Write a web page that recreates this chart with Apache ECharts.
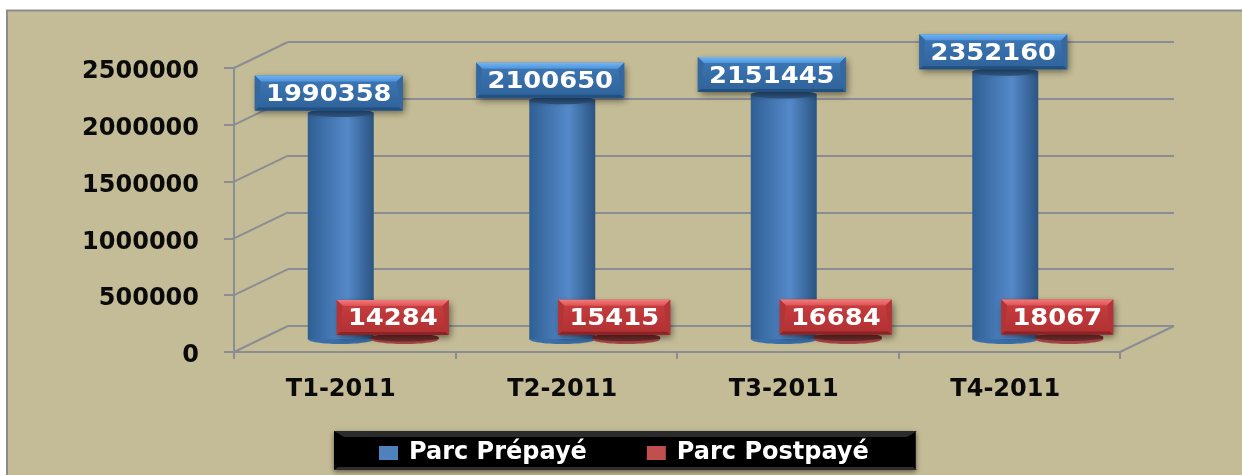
<!DOCTYPE html>
<html><head><meta charset="utf-8">
<style>html,body{margin:0;padding:0;background:#fff}#c{width:1242px;height:475px}</style>
<script src="https://cdn.jsdelivr.net/npm/echarts@6/dist/echarts.min.js"></script>
</head><body><div id="c"></div>
<script>
const categories = ['T1-2011','T2-2011','T3-2011','T4-2011'];
const prepaye = [1990358,2100650,2151445,2352160];
const postpaye = [14284,15415,16684,18067];
const yTicks = [0,500000,1000000,1500000,2000000,2500000];
const FONT = '"DejaVu Sans"';
const GRID = '#8b8d92';
const DX = 54, DY = 26;
const chart = echarts.init(document.getElementById('c'), null, {renderer:'canvas'});

function hGrad(a,c,d){return new echarts.graphic.LinearGradient(0,0,1,0,[
  {offset:0,color:a},{offset:.6,color:c},{offset:1,color:d}]);}
function vGrad(a,b){return new echarts.graphic.LinearGradient(0,0,0,1,[{offset:0,color:a},{offset:1,color:b}]);}
function bevelLabel(cx,cy,w,h,p,text){
  const x=cx-w/2,y=cy-h/2,b=6,r=x+w,e=y+h;
  return [
    {type:'rect',shape:{x,y,width:w,height:h},style:{fill:vGrad(p.main,p.main2),shadowBlur:7,shadowColor:'rgba(0,0,0,.5)',shadowOffsetX:2,shadowOffsetY:3}},
    {type:'polygon',shape:{points:[[x,y],[r,y],[r-b,y+b],[x+b,y+b]]},style:{fill:vGrad(p.top,p.top2)}},
    {type:'polygon',shape:{points:[[x,e],[r,e],[r-3,e-3],[x+3,e-3]]},style:{fill:p.bottom}},
    {type:'polygon',shape:{points:[[x,y],[x+b,y+b],[x+3,e-3],[x,e]]},style:{fill:p.side}},
    {type:'polygon',shape:{points:[[r,y],[r-b,y+b],[r-3,e-3],[r,e]]},style:{fill:p.side}},
    {type:'text',x:cx,y:cy+2,scaleX:1.12,style:{text:text,fill:'#fff',font:'bold 23px '+FONT,textAlign:'center',textVerticalAlign:'middle',shadowBlur:2,shadowColor:'rgba(255,255,255,.6)'}}
  ];
}
function cylinder(offset,halfW,pal,lab,labW){
  return function(params,api){
    const v=api.value(1), base=api.coord([api.value(0),0]), top=api.coord([api.value(0),v]);
    const cx=base[0]+offset, rx=halfW;
    return {type:'group',children:[
      {type:'ellipse',shape:{cx,cy:base[1],rx,ry:5},style:{fill:pal.base}},
      {type:'rect',shape:{x:cx-rx,y:top[1],width:rx*2,height:base[1]-top[1]},style:{fill:hGrad(pal.e1,pal.c,pal.e2)}},
      {type:'ellipse',shape:{cx,cy:top[1],rx,ry:4},style:{fill:pal.top}}
    ].concat(bevelLabel(cx-12,top[1]-20,labW,35,lab,String(v)))};
  };
}
const wallRender=function(params,api){
  const cs=params.coordSys, p=api.coord([0,api.value(0)]), x=cs.x;
  return {type:'line',shape:{x1:x,y1:p[1],x2:x+DX,y2:p[1]-DY},style:{stroke:GRID,lineWidth:2}};
};
const floorRender=function(params){
  const cs=params.coordSys, x=cs.x+cs.width, y=cs.y+cs.height;
  return {type:'line',shape:{x1:x,y1:y,x2:x+DX,y2:y-DY},style:{stroke:GRID,lineWidth:2}};
};
const hidden={show:false};
chart.setOption({
  animation:false,
  backgroundColor:'#fff',
  textStyle:{fontFamily:FONT},
  graphic:[
    {type:'rect',z:-10,shape:{x:7,y:10.5,width:1240,height:470},style:{fill:'#C4BC96',stroke:'#8c8c8c',lineWidth:2}},
    {type:'polygon',z:10,silent:true,shape:{points:[[334,431],[917,431],[907,437],[344,437]]},style:{fill:'#2b2b2b'}},
    {type:'polygon',z:10,silent:true,shape:{points:[[334,470],[917,470],[913,467],[338,467]]},style:{fill:'#2e2e2e'}}
  ],
  grid:[
    {left:234,top:68,width:886,height:284},
    {left:288,top:42,width:886,height:284},
    {left:261,top:55,width:886,height:284}
  ],
  xAxis:[
    {type:'category',gridIndex:0,data:categories,boundaryGap:true,
      axisLine:{lineStyle:{color:GRID,width:2}},axisTick:{show:true,length:7,alignWithLabel:false,lineStyle:{color:GRID,width:2}},
      axisLabel:{margin:26,color:'#0a0a0a',fontFamily:FONT,fontWeight:'bold',fontSize:24,interval:0,padding:[0,8,0,0]},splitLine:hidden},
    {type:'category',gridIndex:1,data:categories,axisLine:hidden,axisTick:hidden,axisLabel:hidden},
    {type:'category',gridIndex:2,data:categories,axisLine:hidden,axisTick:hidden,axisLabel:hidden}
  ],
  yAxis:[
    {type:'value',gridIndex:0,min:0,max:2500000,interval:500000,
      axisLine:{show:true,lineStyle:{color:GRID,width:2}},axisTick:{show:true,length:10,lineStyle:{color:GRID,width:2}},
      axisLabel:{margin:35,color:'#0a0a0a',fontFamily:FONT,fontWeight:'bold',fontSize:24,verticalAlign:'top',lineHeight:8,formatter:v=>String(v)},splitLine:hidden},
    {type:'value',gridIndex:1,min:0,max:2500000,interval:500000,axisLine:hidden,axisTick:hidden,axisLabel:hidden,
      splitLine:{show:true,lineStyle:{color:GRID,width:2}}},
    {type:'value',gridIndex:2,min:0,max:2500000,interval:500000,axisLine:hidden,axisTick:hidden,axisLabel:hidden,splitLine:hidden}
  ],
  legend:{
    left:334,top:431,data:['Parc Prépayé','Parc Postpayé'],icon:'rect',itemWidth:19,itemHeight:14,itemGap:60,
    padding:[10,47,5,45],backgroundColor:'#000',shadowBlur:5,shadowColor:'rgba(0,0,0,.5)',shadowOffsetY:2,
    textStyle:{color:'#fff',fontFamily:FONT,fontWeight:'bold',fontSize:24,padding:[0,0,0,6]}
  },
  series:[
    {name:'wall',type:'custom',xAxisIndex:0,yAxisIndex:0,z:1,silent:true,renderItem:wallRender,data:yTicks.map(v=>[v]),encode:{y:0}},
    {name:'floor',type:'custom',xAxisIndex:0,yAxisIndex:0,z:1,silent:true,renderItem:floorRender,data:[[0]],encode:{y:0}},
    {name:'Parc Prépayé',type:'custom',xAxisIndex:2,yAxisIndex:2,z:3,itemStyle:{color:'#4F81BD'},
      encode:{x:0,y:1},data:prepaye.map((v,i)=>[i,v]),
      renderItem:cylinder(-31,33,{base:'#3a6ea8',e1:'#2f5f94',c:'#5589c9',e2:'#2a5482',top:'#2f5885'},
        {main:'#3d78b6',main2:'#2f6299',top:'#6fb4f5',top2:'#4f93d8',bottom:'#214f7f',side:'#34689f'},148)},
    {name:'Parc Postpayé',type:'custom',xAxisIndex:2,yAxisIndex:2,z:4,itemStyle:{color:'#C0504D'},
      encode:{x:0,y:1},data:postpaye.map((v,i)=>[i,v]),
      renderItem:cylinder(33,34,{base:'#a84444',e1:'#8d2f2f',c:'#a84040',e2:'#7a2828',top:'#722c2c'},
        {main:'#c93e40',main2:'#b03032',top:'#f47a7a',top2:'#dd5254',bottom:'#8e2325',side:'#b33436'},112)}
  ]
});
</script></body></html>
